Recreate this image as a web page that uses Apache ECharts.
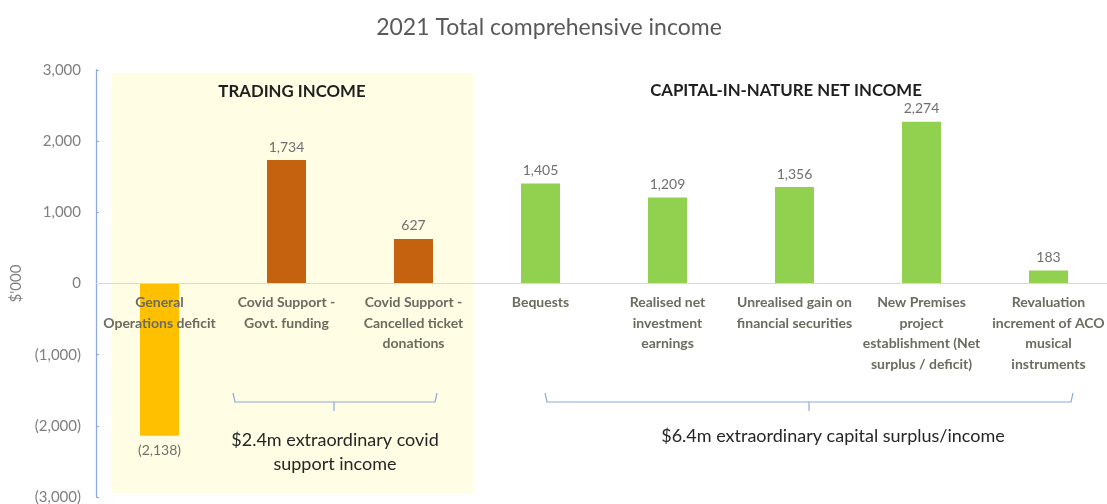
<!DOCTYPE html>
<html>
<head>
<meta charset="utf-8">
<script src="https://cdn.jsdelivr.net/npm/echarts@6/dist/echarts.min.js"></script>
<style>
html,body{margin:0;padding:0;background:#fff;}
#chart{width:1107px;height:504px;}
</style>
</head>
<body>
<div id="chart"></div>
<script>
// ---- data ----
const categories = [
  'General\nOperations deficit',
  'Covid Support -\nGovt. funding',
  'Covid Support -\nCancelled ticket\ndonations',
  'Bequests',
  'Realised net\ninvestment\nearnings',
  'Unrealised gain on\nfinancial securities',
  'New Premises\nproject\nestablishment (Net\nsurplus / deficit)',
  'Revaluation\nincrement of ACO\nmusical\ninstruments'
];
const values = [-2138, 1734, 627, 1405, 1209, 1356, 2274, 183];
const groups = ['deficit', 'trading', 'trading', 'capital', 'capital', 'capital', 'capital', 'capital'];
const yTicks = { min: -3000, max: 3000, interval: 1000 };
const titleText = '2021 Total comprehensive income';
const sectionLabels = ['TRADING INCOME', 'CAPITAL-IN-NATURE NET INCOME'];
const bracketLabels = ['$2.4m extraordinary covid\nsupport income', '$6.4m extraordinary capital surplus/income'];

// ---- styles ----
const groupColors = { deficit: '#FFC000', trading: '#C5620F', capital: '#92D050' };
const FONT = 'Lato, "Open Sans", sans-serif';
const fmt = v => {
  const s = Math.abs(v).toLocaleString('en-US');
  return v < 0 ? '(' + s + ')' : s;
};

const GRID = { left: 96, top: 70, width: 1016, height: 427 };
// pixel distance from grid bottom to the zero line (derived from the y range)
const zeroOffset = GRID.height * (0 - yTicks.min) / (yTicks.max - yTicks.min);

const chart = echarts.init(document.getElementById('chart'), null, { renderer: 'canvas' });
const bracketColor = '#8EA9DB';

function bracket(x1, x2, y, xm) {
  return [
    { type: 'polyline', z: 1, shape: { points: [[x1, y - 9], [x1 + 2, y], [x2 - 2, y], [x2, y - 9]] },
      style: { stroke: bracketColor, lineWidth: 1.2, fill: null } },
    { type: 'line', z: 1, shape: { x1: xm, y1: y, x2: xm, y2: y + 9 },
      style: { stroke: bracketColor, lineWidth: 1.2 } }
  ];
}

chart.setOption({
  animation: false,
  backgroundColor: '#fff',
  textStyle: { fontFamily: FONT },
  grid: Object.assign({ containLabel: false, outerBoundsMode: 'none' }, GRID),
  xAxis: {
    type: 'category',
    data: categories,
    z: 5,
    position: 'bottom',
    offset: -zeroOffset,
    axisLine: { onZero: false, lineStyle: { color: '#D9D9D9', width: 1 } },
    axisTick: { show: false },
    axisLabel: {
      interval: 0, margin: 9, fontSize: 14, fontWeight: 'bold', lineHeight: 20.5,
      color: '#6b6b5f', fontFamily: FONT
    }
  },
  yAxis: {
    type: 'value',
    min: yTicks.min, max: yTicks.max, interval: yTicks.interval,
    name: "$'000", nameLocation: 'middle', nameGap: 70, nameRotate: 90,
    nameTextStyle: { color: '#7f7f7f', fontSize: 15, fontFamily: FONT },
    splitLine: { show: false },
    axisLine: { show: true, onZero: false, lineStyle: { color: bracketColor, width: 1.3 } },
    axisTick: { show: true, length: 3, inside: true, lineStyle: { color: bracketColor } },
    axisLabel: { formatter: fmt, color: '#7f7f7f', fontSize: 15, margin: 15, fontFamily: FONT }
  },
  series: [{
    type: 'bar',
    barWidth: 39,
    data: values.map((v, i) => ({
      value: v,
      itemStyle: { color: groupColors[groups[i]] },
      label: { position: v < 0 ? 'bottom' : 'top', distance: v < 0 ? 8 : 6 }
    })),
    label: {
      show: true, formatter: p => fmt(p.value), color: '#6f6f6f', fontSize: 14, fontFamily: FONT
    }
  }],
  graphic: [
    { type: 'rect', z: -1, silent: true, shape: { x: 112, y: 73, width: 361, height: 420 },
      style: { fill: '#FFFDE3' } },
    { type: 'text', x: 549, y: 28, style: { text: titleText, fill: '#595959', font: '23px ' + FONT,
      textAlign: 'center', textVerticalAlign: 'middle' } },
    { type: 'text', x: 292, y: 92, style: { text: sectionLabels[0], fill: '#1f1f1f', font: 'bold 16.8px ' + FONT,
      textAlign: 'center', textVerticalAlign: 'middle' } },
    { type: 'text', x: 786, y: 91, style: { text: sectionLabels[1], fill: '#1f1f1f', font: 'bold 16.8px ' + FONT,
      textAlign: 'center', textVerticalAlign: 'middle' } },
    ...bracket(233, 437, 402, 334),
    ...bracket(545, 1073, 402, 809),
    { type: 'text', x: 335, y: 452, style: { text: bracketLabels[0], fill: '#262626', font: '18px ' + FONT,
      lineHeight: 24, textAlign: 'center', textVerticalAlign: 'middle' } },
    { type: 'text', x: 833, y: 436, style: { text: bracketLabels[1], fill: '#262626', font: '18px ' + FONT,
      textAlign: 'center', textVerticalAlign: 'middle' } }
  ]
});
</script>
</body>
</html>
